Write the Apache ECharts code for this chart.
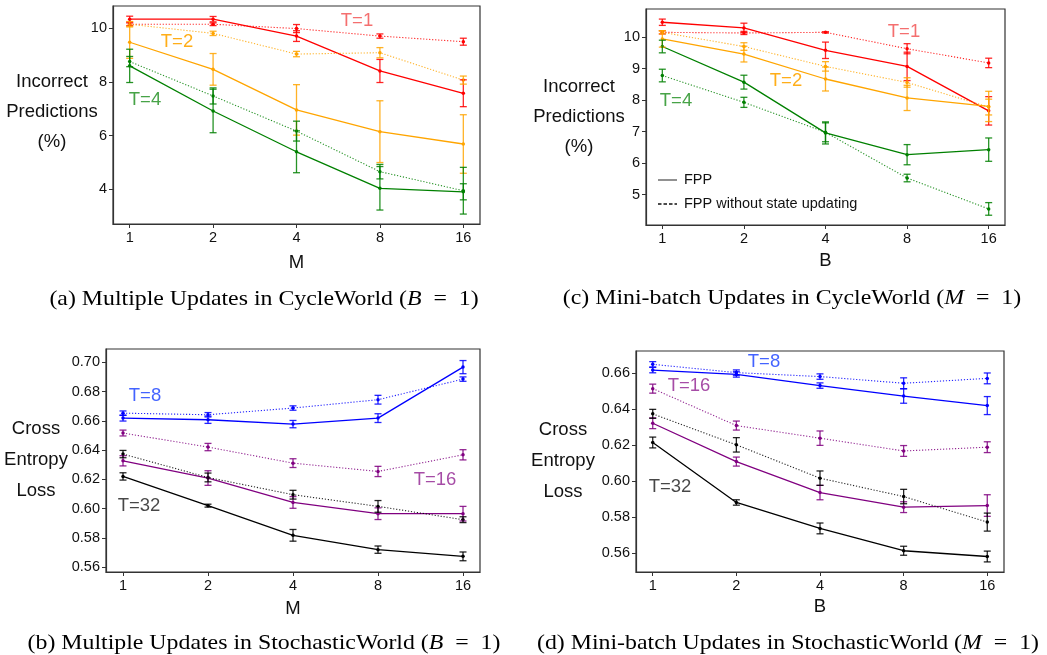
<!DOCTYPE html>
<html><head><meta charset="utf-8">
<script src="https://cdn.jsdelivr.net/npm/echarts@6/dist/echarts.min.js"></script>
<style>html,body{margin:0;padding:0;background:#fff}#c{width:1047px;height:655px}</style>
</head><body><div id="c"></div><script>
// x categories (plotted at equal spacing)
const xLabels = ['1', '2', '4', '8', '16'];

// (a) Multiple Updates in CycleWorld — Incorrect predictions (%)
const aT1 = [10.34, 10.34, 9.71, 8.41, 7.58];
const aT1Err = [0.11, 0.10, 0.20, 0.43, 0.50];
const aT1NoUpd = [10.15, 10.15, 9.99, 9.71, 9.50];
const aT1NoUpdErr = [0.05, 0.05, 0.15, 0.08, 0.13];
const aT2 = [9.48, 8.47, 6.96, 6.15, 5.69];
const aT2Err = [0.60, 0.59, 0.94, 1.15, 1.09];
const aT2NoUpd = [10.15, 9.81, 9.04, 9.09, 8.07];
const aT2NoUpdErr = [0.10, 0.08, 0.10, 0.19, 0.15];
const aT4 = [8.60, 6.92, 5.40, 4.04, 3.91];
const aT4Err = [0.62, 0.81, 0.78, 0.81, 0.30];
const aT4NoUpd = [8.76, 7.48, 6.17, 4.66, 3.95];
const aT4NoUpdErr = [0.19, 0.30, 0.37, 0.27, 0.87];

// (c) Mini-batch Updates in CycleWorld
const cT1 = [10.47, 10.29, 9.58, 9.07, 7.66];
const cT1Err = [0.10, 0.15, 0.26, 0.45, 0.45];
const cT1NoUpd = [10.15, 10.13, 10.15, 9.63, 9.18];
const cT1NoUpdErr = [0.05, 0.05, 0.02, 0.16, 0.15];
const cT2 = [9.94, 9.46, 8.67, 8.07, 7.80];
const cT2Err = [0.26, 0.25, 0.38, 0.40, 0.48];
const cT2NoUpd = [10.15, 9.70, 9.07, 8.56, 7.78];
const cT2NoUpdErr = [0.05, 0.12, 0.15, 0.15, 0.25];
const cT4 = [9.70, 8.57, 6.96, 6.27, 6.43];
const cT4Err = [0.20, 0.22, 0.35, 0.32, 0.37];
const cT4NoUpd = [8.78, 7.93, 6.98, 5.53, 4.55];
const cT4NoUpdErr = [0.20, 0.16, 0.30, 0.12, 0.20];

// (b) Multiple Updates in StochasticWorld — Cross entropy loss
const bT8 = [0.6619, 0.6608, 0.6578, 0.6619, 0.6968];
const bT8Err = [0.002, 0.0025, 0.0025, 0.003, 0.0045];
const bT8NoUpd = [0.6653, 0.6642, 0.6688, 0.6745, 0.6886];
const bT8NoUpdErr = [0.0015, 0.0015, 0.0015, 0.003, 0.0015];
const bT16 = [0.6327, 0.6209, 0.6042, 0.5965, 0.5965];
const bT16Err = [0.0035, 0.005, 0.004, 0.004, 0.005];
const bT16NoUpd = [0.6517, 0.6421, 0.6311, 0.6254, 0.6368];
const bT16NoUpdErr = [0.002, 0.0025, 0.003, 0.0035, 0.0035];
const bT32 = [0.6220, 0.6020, 0.5817, 0.5719, 0.5673];
const bT32Err = [0.0025, 0.001, 0.004, 0.0025, 0.003];
const bT32NoUpd = [0.6373, 0.6213, 0.6095, 0.6015, 0.5924];
const bT32NoUpdErr = [0.0025, 0.003, 0.003, 0.004, 0.002];

// (d) Mini-batch Updates in StochasticWorld
const dT8 = [0.6618, 0.6594, 0.6532, 0.6474, 0.6421];
const dT8Err = [0.0015, 0.0015, 0.0015, 0.004, 0.005];
const dT8NoUpd = [0.6650, 0.6604, 0.6582, 0.6545, 0.6572];
const dT8NoUpdErr = [0.0015, 0.0015, 0.0015, 0.003, 0.003];
const dT16 = [0.6323, 0.6110, 0.5938, 0.5857, 0.5866];
const dT16Err = [0.003, 0.0025, 0.004, 0.003, 0.006];
const dT16NoUpd = [0.6515, 0.6310, 0.6240, 0.6169, 0.6190];
const dT16NoUpdErr = [0.0025, 0.0025, 0.004, 0.003, 0.003];
const dT32 = [0.6216, 0.5883, 0.5739, 0.5615, 0.5583];
const dT32Err = [0.003, 0.0015, 0.003, 0.0025, 0.003];
const dT32NoUpd = [0.6375, 0.6203, 0.6018, 0.5916, 0.5774];
const dT32NoUpdErr = [0.0025, 0.004, 0.004, 0.004, 0.005];

// y tick labels per panel
const yTicksCycle1 = [4, 6, 8, 10];
const yTicksCycle2 = [5, 6, 7, 8, 9, 10];
const yTicksStoch1 = [0.56, 0.58, 0.60, 0.62, 0.64, 0.66, 0.68, 0.70];
const yTicksStoch2 = [0.56, 0.58, 0.60, 0.62, 0.64, 0.66];

// legend entries (panel c)
const legendNames = ['FPP', 'FPP without state updating'];

const RED = '#ff0000', ORANGE = '#ffa500', GREEN = '#008000',
      BLUE = '#0000ff', PURPLE = '#800080', BLACK = '#000000';
const SANS = 'Liberation Sans, Arial, sans-serif';
const SERIF = 'Liberation Serif, Times New Roman, serif';

const panels = [
  { grid: {left: 113, top: 6, width: 367, height: 218}, yMin: 2.71, yMax: 10.83, ticks: yTicksCycle1, dec: 0, xName: 'M', gap: 29,
    lines: [[aT1, aT1Err, RED, false], [aT1NoUpd, aT1NoUpdErr, RED, true],
            [aT2, aT2Err, ORANGE, false], [aT2NoUpd, aT2NoUpdErr, ORANGE, true],
            [aT4, aT4Err, GREEN, false], [aT4NoUpd, aT4NoUpdErr, GREEN, true]] },
  { grid: {left: 646, top: 9, width: 359, height: 216}, yMin: 4.04, yMax: 10.89, ticks: yTicksCycle2, dec: 0, xName: 'B', gap: 26,
    lines: [[cT1, cT1Err, RED, false], [cT1NoUpd, cT1NoUpdErr, RED, true],
            [cT2, cT2Err, ORANGE, false], [cT2NoUpd, cT2NoUpdErr, ORANGE, true],
            [cT4, cT4Err, GREEN, false], [cT4NoUpd, cT4NoUpdErr, GREEN, true]] },
  { grid: {left: 106, top: 349, width: 374, height: 223}, yMin: 0.5566, yMax: 0.7092, ticks: yTicksStoch1, dec: 2, xName: 'M', gap: 27,
    lines: [[bT8, bT8Err, BLUE, false], [bT8NoUpd, bT8NoUpdErr, BLUE, true],
            [bT16, bT16Err, PURPLE, false], [bT16NoUpd, bT16NoUpdErr, PURPLE, true],
            [bT32, bT32Err, BLACK, false], [bT32NoUpd, bT32NoUpdErr, BLACK, true]] },
  { grid: {left: 636, top: 351, width: 368, height: 221}, yMin: 0.5497, yMax: 0.6724, ticks: yTicksStoch2, dec: 2, xName: 'B', gap: 25,
    lines: [[dT8, dT8Err, BLUE, false], [dT8NoUpd, dT8NoUpdErr, BLUE, true],
            [dT16, dT16Err, PURPLE, false], [dT16NoUpd, dT16NoUpdErr, PURPLE, true],
            [dT32, dT32Err, BLACK, false], [dT32NoUpd, dT32NoUpdErr, BLACK, true]] }
];

const grids = [], xAxes = [], yAxes = [], series = [];
const idx = xLabels.map((_, i) => i);

panels.forEach((p, pi) => {
  grids.push(Object.assign({show: true, borderColor: '#333', borderWidth: 1.2, backgroundColor: 'transparent'}, p.grid));
  xAxes.push({
    type: 'value', gridIndex: pi, min: -0.2, max: 4.2,
    name: p.xName, nameLocation: 'middle', nameGap: p.gap,
    nameTextStyle: {fontFamily: SANS, fontSize: 18.5, color: '#111'},
    axisLine: {show: true, onZero: false, lineStyle: {color: '#333', width: 1.2}},
    axisTick: {show: true, length: 4, customValues: idx, lineStyle: {color: '#333'}},
    axisLabel: {customValues: idx, formatter: v => xLabels[Math.round(v)], fontFamily: SANS, fontSize: 14.5, color: '#111', margin: 6},
    splitLine: {show: false}
  });
  yAxes.push({
    type: 'value', gridIndex: pi, min: p.yMin, max: p.yMax,
    axisLine: {show: true, onZero: false, lineStyle: {color: '#333', width: 1.2}},
    axisTick: {show: true, length: 4, customValues: p.ticks, lineStyle: {color: '#333'}},
    axisLabel: {customValues: p.ticks, formatter: v => Number(v).toFixed(p.dec), fontFamily: SANS, fontSize: 14.5, color: '#111', margin: 6},
    splitLine: {show: false}
  });
  p.lines.forEach(([vals, errs, color, dotted]) => {
    series.push({
      type: 'line', xAxisIndex: pi, yAxisIndex: pi,
      data: vals.map((v, i) => [i, v]),
      symbol: 'circle', symbolSize: 3.5,
      itemStyle: {color: color},
      lineStyle: {color: color, width: dotted ? 1.1 : 1.3, type: dotted ? [1.2, 1.8] : 'solid', opacity: dotted ? 0.85 : 1},
      silent: true, z: 3
    });
    series.push({
      type: 'custom', xAxisIndex: pi, yAxisIndex: pi,
      data: vals.map((v, i) => [i, v, errs[i]]),
      encode: {x: 0, y: 1},
      silent: true, z: 4,
      renderItem: (params, api) => {
        const x = api.value(0), y = api.value(1), e = api.value(2);
        const t = api.coord([x, y + e]), b = api.coord([x, y - e]);
        const c = 3.5;
        const st = {stroke: color, lineWidth: 1.3, opacity: 0.85};
        return {type: 'group', children: [
          {type: 'line', shape: {x1: t[0], y1: t[1], x2: b[0], y2: b[1]}, style: st},
          {type: 'line', shape: {x1: t[0] - c, y1: t[1], x2: t[0] + c, y2: t[1]}, style: st},
          {type: 'line', shape: {x1: b[0] - c, y1: b[1], x2: b[0] + c, y2: b[1]}, style: st}
        ]};
      }
    });
  });
});

function txt(text, x, y, size, color, family, extra, scaleX) {
  return {type: 'text', x: x, y: y, silent: true, z: 10, scaleX: scaleX || 1,
    style: Object.assign({text: text, fill: color, font: size + 'px ' + family, align: 'center', verticalAlign: 'middle'}, extra || {})};
}
function seg(x1, y1, x2, y2, color, dash) {
  return {type: 'line', silent: true, z: 10, shape: {x1: x1, y1: y1, x2: x2, y2: y2},
    style: {stroke: color, lineWidth: 1.3, lineDash: dash || null}};
}
const capRich = {i: {fontStyle: 'italic', fontSize: 21, fontFamily: SERIF}};
const EQ = '\u2002=\u2002';

const graphics = [
  // y-axis titles
  txt('Incorrect\nPredictions\n(%)', 52, 112, 18.5, '#111', SANS, {lineHeight: 30}),
  txt('Incorrect\nPredictions\n(%)', 579, 117, 18.5, '#111', SANS, {lineHeight: 30}),
  txt('Cross\nEntropy\nLoss', 36, 460, 18.5, '#111', SANS, {lineHeight: 31}),
  txt('Cross\nEntropy\nLoss', 563, 461, 18.5, '#111', SANS, {lineHeight: 31}),
  // series annotations
  txt('T=1', 357, 21, 18.5, 'rgba(240,50,50,0.7)', SANS),
  txt('T=2', 177, 42, 18.5, 'rgba(255,165,0,0.9)', SANS),
  txt('T=4', 145, 100, 18.5, 'rgba(0,128,0,0.72)', SANS),
  txt('T=1', 904, 32, 18.5, 'rgba(240,50,50,0.7)', SANS),
  txt('T=2', 786, 81, 18.5, 'rgba(255,165,0,0.9)', SANS),
  txt('T=4', 676, 101, 18.5, 'rgba(0,128,0,0.72)', SANS),
  txt('T=8', 145, 396, 18.5, 'rgba(20,60,255,0.8)', SANS),
  txt('T=16', 435, 480, 18.5, 'rgba(128,0,128,0.7)', SANS),
  txt('T=32', 139, 506, 18.5, 'rgba(0,0,0,0.72)', SANS),
  txt('T=8', 764, 362, 18.5, 'rgba(20,60,255,0.8)', SANS),
  txt('T=16', 689, 386, 18.5, 'rgba(128,0,128,0.7)', SANS),
  txt('T=32', 670, 487, 18.5, 'rgba(0,0,0,0.72)', SANS),
  // legend (panel c)
  seg(658, 180, 677, 180, '#555'),
  seg(658, 204, 677, 204, '#111', [3.5, 2]),
  txt(legendNames[0], 684, 180, 14.5, '#111', SANS, {align: 'left'}),
  txt(legendNames[1], 684, 204, 14.5, '#111', SANS, {align: 'left'}),
  // captions
  txt('(a) Multiple Updates in CycleWorld ({i|B}' + EQ + '1)', 264, 299, 21, '#000', SERIF, {rich: capRich}, 1.135),
  txt('(c) Mini-batch Updates in CycleWorld ({i|M}' + EQ + '1)', 792, 298, 21, '#000', SERIF, {rich: capRich}, 1.135),
  txt('(b) Multiple Updates in StochasticWorld ({i|B}' + EQ + '1)', 264, 643, 21, '#000', SERIF, {rich: capRich}, 1.135),
  txt('(d) Mini-batch Updates in StochasticWorld ({i|M}' + EQ + '1)', 788, 643, 21, '#000', SERIF, {rich: capRich}, 1.135)
];

const chart = echarts.init(document.getElementById('c'), null, {renderer: 'canvas'});
chart.setOption({
  animation: false,
  backgroundColor: '#fff',
  grid: grids, xAxis: xAxes, yAxis: yAxes, series: series,
  graphic: graphics
});
</script></body></html>
